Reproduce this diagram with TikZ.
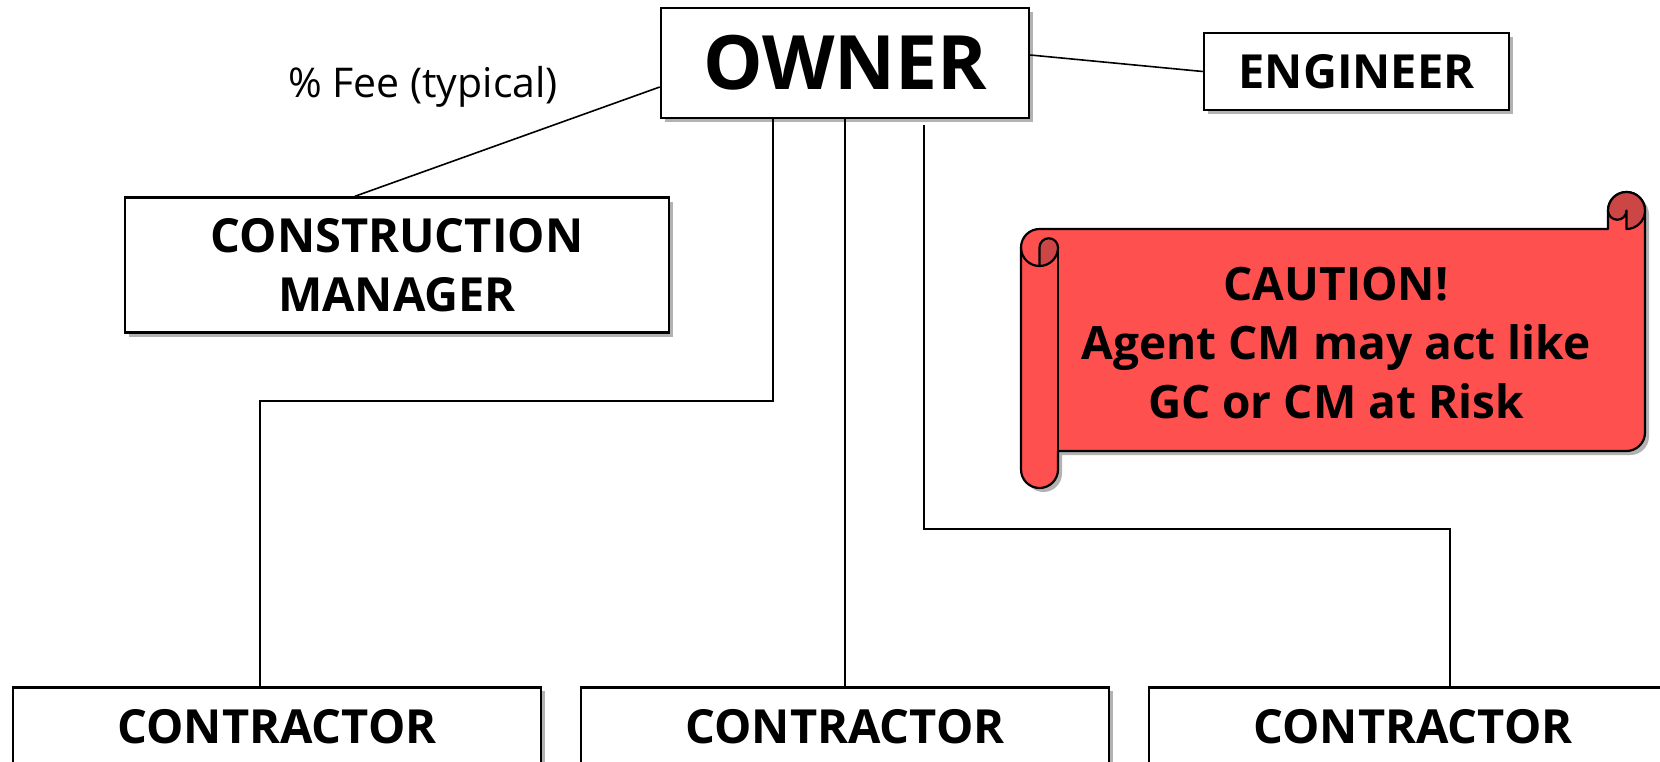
\documentclass[tikz,border=0pt]{standalone}
\usepackage{fontspec}
\setmainfont{Open Sans}
\usetikzlibrary{shadows}
\definecolor{scrollred}{HTML}{FF5050}
\definecolor{scrolldark}{HTML}{CC4646}
\tikzset{
  boxshadow/.style={drop shadow={shadow xshift=4pt, shadow yshift=-4pt, opacity=0.3, fill=black}},
  box/.style={draw=black, line width=2.5pt, fill=white, boxshadow, inner sep=0pt, align=center, font=\bfseries\fontsize{47}{59}\selectfont},
  boxtext/.style={inner sep=0pt, font=\bfseries\fontsize{47}{59}\selectfont},
  conn/.style={draw=black, line width=1.6pt},
  scrollline/.style={draw=black, line width=2.2pt, line join=round},
}
\begin{document}
\begin{tikzpicture}[x=1pt,y=1pt]
\useasboundingbox (0,0) rectangle (1660,-761);
\clip (0,0) rectangle (1660,-761);

% boxes
\node[box, minimum width=368pt, minimum height=110pt, font=\bfseries\fontsize{75}{80}\selectfont] (owner) at (845,-63) {OWNER};
\node[box, minimum width=305pt, minimum height=77pt] (eng) at (1356.5,-71.5) {ENGINEER};
\node[box, minimum width=544pt, minimum height=135pt] (cm) at (397,-265) {CONSTRUCTION\\MANAGER};
\node[box, minimum width=528pt, minimum height=150pt, anchor=north] (c1) at (277,-686) {};
\node[box, minimum width=528pt, minimum height=150pt, anchor=north] (c2) at (845,-686) {};
\node[box, minimum width=528pt, minimum height=150pt, anchor=north] (c3) at (1413,-686) {};
\node[boxtext] (c1t) at (277,-727) {CONTRACTOR};
\node[boxtext] (c2t) at (845,-727) {CONTRACTOR};
\node[boxtext] (c3t) at (1413,-727) {CONTRACTOR};

\node[inner sep=0pt, font=\fontsize{41}{44}\selectfont] (fee) at (423,-87) {\% Fee (typical)};

% connectors
\coordinate (ow) at ([yshift=-24pt]owner.west);
\coordinate (cmt) at ([xshift=-42pt]cm.north);
\coordinate (oe) at ([yshift=8pt]owner.east);
\coordinate (o1) at ([xshift=-72pt]owner.south);
\coordinate (o3) at ([xshift=79pt,yshift=-6pt]owner.south);
\coordinate (c1in) at ([xshift=-17pt]c1.north);
\coordinate (c3in) at ([xshift=37pt]c3.north);
\draw[conn] (ow) -- (cmt);
\draw[conn] (oe) -- (eng.west);
\draw[conn] (o1) -- ++(0,-282) -| (c1in);
\draw[conn] (owner.south) -- (c2.north);
\draw[conn] (o3) -- ++(0,-404) -| (c3in);

% scroll
\path[scrollline, fill=scrollred, boxshadow]
  (1021,-247.5) arc (180:90:18.5) -- (1608,-229) -- (1608,-210.5)
  arc (180:0:18.5) -- (1645,-432.5) arc (0:-90:18.5) -- (1058,-451)
  -- (1058,-469.5) arc (0:-180:18.5) -- cycle;
% left roll
\draw[scrollline] (1058,-247.5) -- (1058,-451);
\draw[scrollline] (1021,-247.5) arc (180:270:18.5);
\draw[scrollline, fill=scrolldark] (1039.5,-266) -- (1039.5,-247.5) arc (180:0:9.25) arc (0:-90:18.5) -- cycle;
% right roll
\draw[scrollline, fill=scrolldark] (1608,-210.5) arc (180:0:18.5) arc (0:-90:18.5) -- (1626.5,-210.5) arc (0:-180:9.25) -- cycle;

\node[align=center, inner sep=0pt, font=\bfseries\fontsize{46}{59}\selectfont] (caution) at (1336,-343) {CAUTION!\\Agent CM may act like\\GC or CM at Risk};
\end{tikzpicture}
\end{document}
